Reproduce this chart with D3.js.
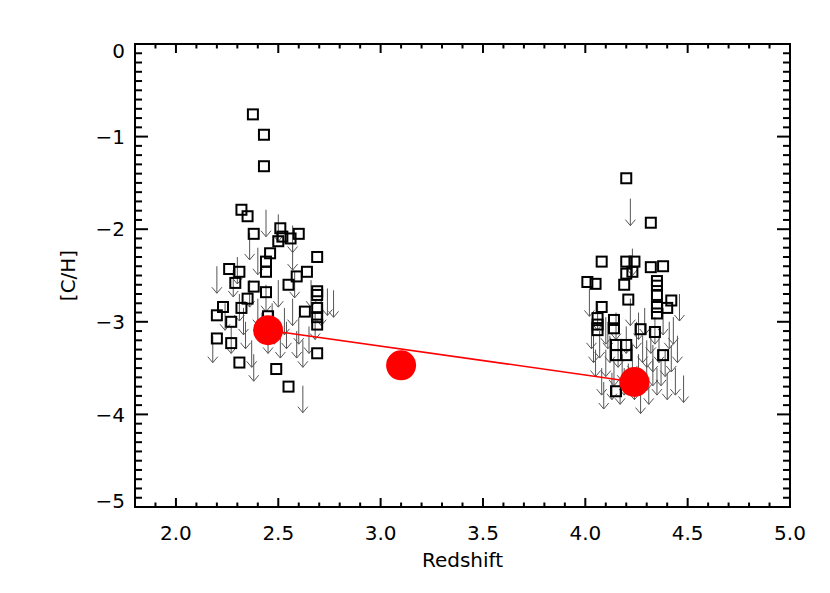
<!DOCTYPE html>
<html>
<head>
<meta charset="utf-8">
<script src="https://cdn.jsdelivr.net/npm/d3@7"></script>
<style>
  body { margin: 0; background: #fff; }
  text { font-family: "DejaVu Sans", sans-serif; fill: #000; }
</style>
</head>
<body>
<div id="chart"></div>
<script>

// detections (squares): [redshift, [C/H]]
var detections = [
  [2.376, -0.76], [2.43, -0.98], [2.43, -1.32],
  [2.32, -1.79], [2.35, -1.86], [2.38, -2.05],
  [2.51, -1.99], [2.50, -2.13], [2.56, -2.10], [2.60, -2.05], [2.52, -2.08],
  [2.46, -2.26], [2.44, -2.35], [2.69, -2.30],
  [2.26, -2.43], [2.31, -2.46], [2.44, -2.46],
  [2.29, -2.58], [2.38, -2.62], [2.35, -2.75], [2.44, -2.68],
  [2.55, -2.60], [2.59, -2.51], [2.64, -2.46],
  [2.69, -2.67], [2.69, -2.71], [2.63, -2.89], [2.69, -2.85], [2.69, -2.95], [2.69, -3.03],
  [2.23, -2.84], [2.20, -2.93], [2.32, -2.85], [2.27, -3.00], [2.45, -2.94],
  [2.20, -3.18], [2.27, -3.23], [2.31, -3.44], [2.49, -3.51], [2.69, -3.34], [2.55, -3.70],
  [4.20, -1.45], [4.32, -1.93],
  [4.08, -2.35], [4.20, -2.35], [4.24, -2.35], [4.23, -2.46], [4.20, -2.48],
  [4.32, -2.41], [4.38, -2.40],
  [4.01, -2.57], [4.05, -2.59], [4.19, -2.60], [4.35, -2.56], [4.35, -2.61],
  [4.35, -2.71], [4.42, -2.77], [4.40, -2.85], [4.21, -2.76], [4.08, -2.84],
  [4.35, -2.84], [4.35, -2.91], [4.06, -2.96], [4.06, -3.03], [4.06, -3.09],
  [4.14, -2.98], [4.14, -3.07], [4.27, -3.08], [4.34, -3.11],
  [4.15, -3.25], [4.20, -3.25], [4.20, -3.36], [4.15, -3.36], [4.38, -3.36],
  [4.15, -3.75]
];

// upper limits (arrows): [redshift, [C/H]]
var limits = [
  [2.20, -2.40], [2.18, -3.15], [2.24, -2.80], [2.28, -2.44], [2.27, -3.05],
  [2.30, -2.30], [2.31, -2.70], [2.33, -2.85], [2.36, -2.04], [2.36, -2.55],
  [2.37, -3.20], [2.38, -3.35], [2.40, -2.75], [2.42, -2.90], [2.44, -1.79],
  [2.44, -2.60], [2.45, -3.05], [2.47, -2.80], [2.48, -2.95], [2.50, -1.84],
  [2.50, -2.55], [2.51, -3.10], [2.53, -2.85], [2.54, -3.00], [2.57, -1.96],
  [2.57, -2.15], [2.57, -2.75], [2.59, -3.10], [2.60, -2.95], [2.62, -3.20],
  [2.62, -3.69], [2.66, -2.55], [2.68, -2.90], [2.74, -2.64], [2.77, -2.66],
  [2.65, -3.05], [2.71, -2.75], [2.58, -2.45], [2.40, -2.20], [2.34, -3.00],
  [4.22, -1.67], [4.23, -2.21],
  [4.02, -2.65], [4.03, -3.00], [4.05, -3.30], [4.06, -2.80], [4.07, -3.10],
  [4.08, -3.50], [4.10, -2.95], [4.10, -3.30], [4.12, -3.15], [4.13, -3.55],
  [4.14, -3.40], [4.15, -2.90], [4.16, -3.20], [4.17, -3.60], [4.18, -3.35],
  [4.20, -3.05], [4.21, -3.45], [4.22, -2.75], [4.23, -3.25], [4.24, -3.55],
  [4.25, -3.00], [4.26, -3.35], [4.27, -3.70], [4.28, -3.15], [4.29, -2.85],
  [4.30, -3.45], [4.31, -3.60], [4.32, -3.05], [4.33, -3.25], [4.34, -2.95],
  [4.35, -3.50], [4.36, -3.15], [4.37, -3.40], [4.38, -2.85], [4.39, -3.30],
  [4.40, -3.55], [4.41, -3.00], [4.42, -3.25], [4.44, -3.50], [4.45, -3.15],
  [4.46, -2.70], [4.48, -3.58],
  [4.04, -3.15], [4.09, -3.65], [4.11, -3.00], [4.19, -3.50], [4.26, -2.90],
  [4.33, -3.40], [4.43, -2.95], [4.30, -3.20]
];

// mean values (red circles)
var means = [[2.45, -3.09], [3.10, -3.47], [4.24, -3.65]];
// fitted line end points
var fitLine = [[2.45, -3.09], [4.24, -3.65]];

var xTicks = [2.0, 2.5, 3.0, 3.5, 4.0, 4.5, 5.0];
var yTicks = [0, -1, -2, -3, -4, -5];

var width = 830,
    height = 593;

var margin = {left: 135, right: 40, top: 44, bottom: 86};

var x = d3.scaleLinear().domain([1.8, 5.0]).range([margin.left, width - margin.right]);
var y = d3.scaleLinear().domain([0, -5]).range([margin.top, height - margin.bottom]);

var svg = d3.select('#chart')
  .append('svg')
  .attr('width', width)
  .attr('height', height);

var x0 = x.range()[0], x1 = x.range()[1],
    y0 = y.range()[0], y1 = y.range()[1];

// minor + major ticks, pointing inward on all four sides
var xMinor = d3.range(19, 51).map(function(d) { return d / 10; });
var yMinor = d3.range(0, 51).map(function(d) { return -d / 10; });

var ticks = svg.append('g').attr('stroke', '#000').attr('stroke-width', 2);

xMinor.forEach(function(v) {
  var major = Math.abs(v * 2 - Math.round(v * 2)) < 1e-6;
  var len = major ? 9 : 4.5;
  ticks.append('line').attr('x1', x(v)).attr('x2', x(v)).attr('y1', y1).attr('y2', y1 - len);
  ticks.append('line').attr('x1', x(v)).attr('x2', x(v)).attr('y1', y0).attr('y2', y0 + len);
});

yMinor.forEach(function(v) {
  var major = Math.abs(v - Math.round(v)) < 1e-6;
  var len = major ? 13 : 7;
  ticks.append('line').attr('y1', y(v)).attr('y2', y(v)).attr('x1', x0).attr('x2', x0 + len);
  ticks.append('line').attr('y1', y(v)).attr('y2', y(v)).attr('x1', x1).attr('x2', x1 - len);
});

// plot box
svg.append('rect')
  .attr('x', x0).attr('y', y0)
  .attr('width', x1 - x0).attr('height', y1 - y0)
  .attr('fill', 'none')
  .attr('stroke', '#000')
  .attr('stroke-width', 2);

// tick labels
svg.selectAll('.xlab')
  .data(xTicks)
  .enter().append('text')
  .attr('class', 'xlab')
  .attr('x', function(d) { return x(d); })
  .attr('y', y1 + 33)
  .attr('text-anchor', 'middle')
  .style('font-size', '20px')
  .text(function(d) { return d.toFixed(1); });

svg.selectAll('.ylab')
  .data(yTicks)
  .enter().append('text')
  .attr('class', 'ylab')
  .attr('x', x0 - 10)
  .attr('y', function(d) {
    var shift = d === 0 ? 7 : (d === -5 ? -6 : 0);
    return y(d) + shift;
  })
  .attr('dy', '0.36em')
  .attr('text-anchor', 'end')
  .style('font-size', '20px')
  .text(function(d) { return d === 0 ? '0' : '\u2212' + Math.abs(d); });

// axis titles
svg.append('text')
  .attr('x', (x0 + x1) / 2)
  .attr('y', y1 + 60)
  .attr('text-anchor', 'middle')
  .style('font-size', '20px')
  .text('Redshift');

svg.append('text')
  .attr('transform', 'translate(75,' + ((y0 + y1) / 2) + ') rotate(-90)')
  .attr('text-anchor', 'middle')
  .style('font-size', '20px')
  .text('[C/H]');

// upper limit arrows
var arrowLen = 27;
var arrows = svg.append('g')
  .attr('stroke', '#555')
  .attr('stroke-width', 1)
  .attr('fill', 'none');

arrows.selectAll('path')
  .data(limits)
  .enter().append('path')
  .attr('d', function(d) {
    var px = x(d[0]), py = y(d[1]);
    return 'M' + px + ',' + py + 'V' + (py + arrowLen) +
      'M' + (px - 5) + ',' + (py + arrowLen - 6) + 'L' + px + ',' + (py + arrowLen) +
      'L' + (px + 5) + ',' + (py + arrowLen - 6);
  });

// detection squares
var sq = 10;
svg.append('g')
  .selectAll('rect')
  .data(detections)
  .enter().append('rect')
  .attr('x', function(d) { return x(d[0]) - sq / 2; })
  .attr('y', function(d) { return y(d[1]) - sq / 2; })
  .attr('width', sq)
  .attr('height', sq)
  .attr('fill', 'none')
  .attr('stroke', '#000')
  .attr('stroke-width', 2);

// red fit line and mean points
svg.append('path')
  .datum(fitLine)
  .attr('d', d3.line().x(function(d) { return x(d[0]); }).y(function(d) { return y(d[1]); }))
  .attr('stroke', '#ff0000')
  .attr('stroke-width', 1.5)
  .attr('fill', 'none');

svg.append('g')
  .selectAll('circle')
  .data(means)
  .enter().append('circle')
  .attr('cx', function(d) { return x(d[0]); })
  .attr('cy', function(d) { return y(d[1]); })
  .attr('r', 15)
  .attr('fill', '#ff0000');

</script>
</body>
</html>
